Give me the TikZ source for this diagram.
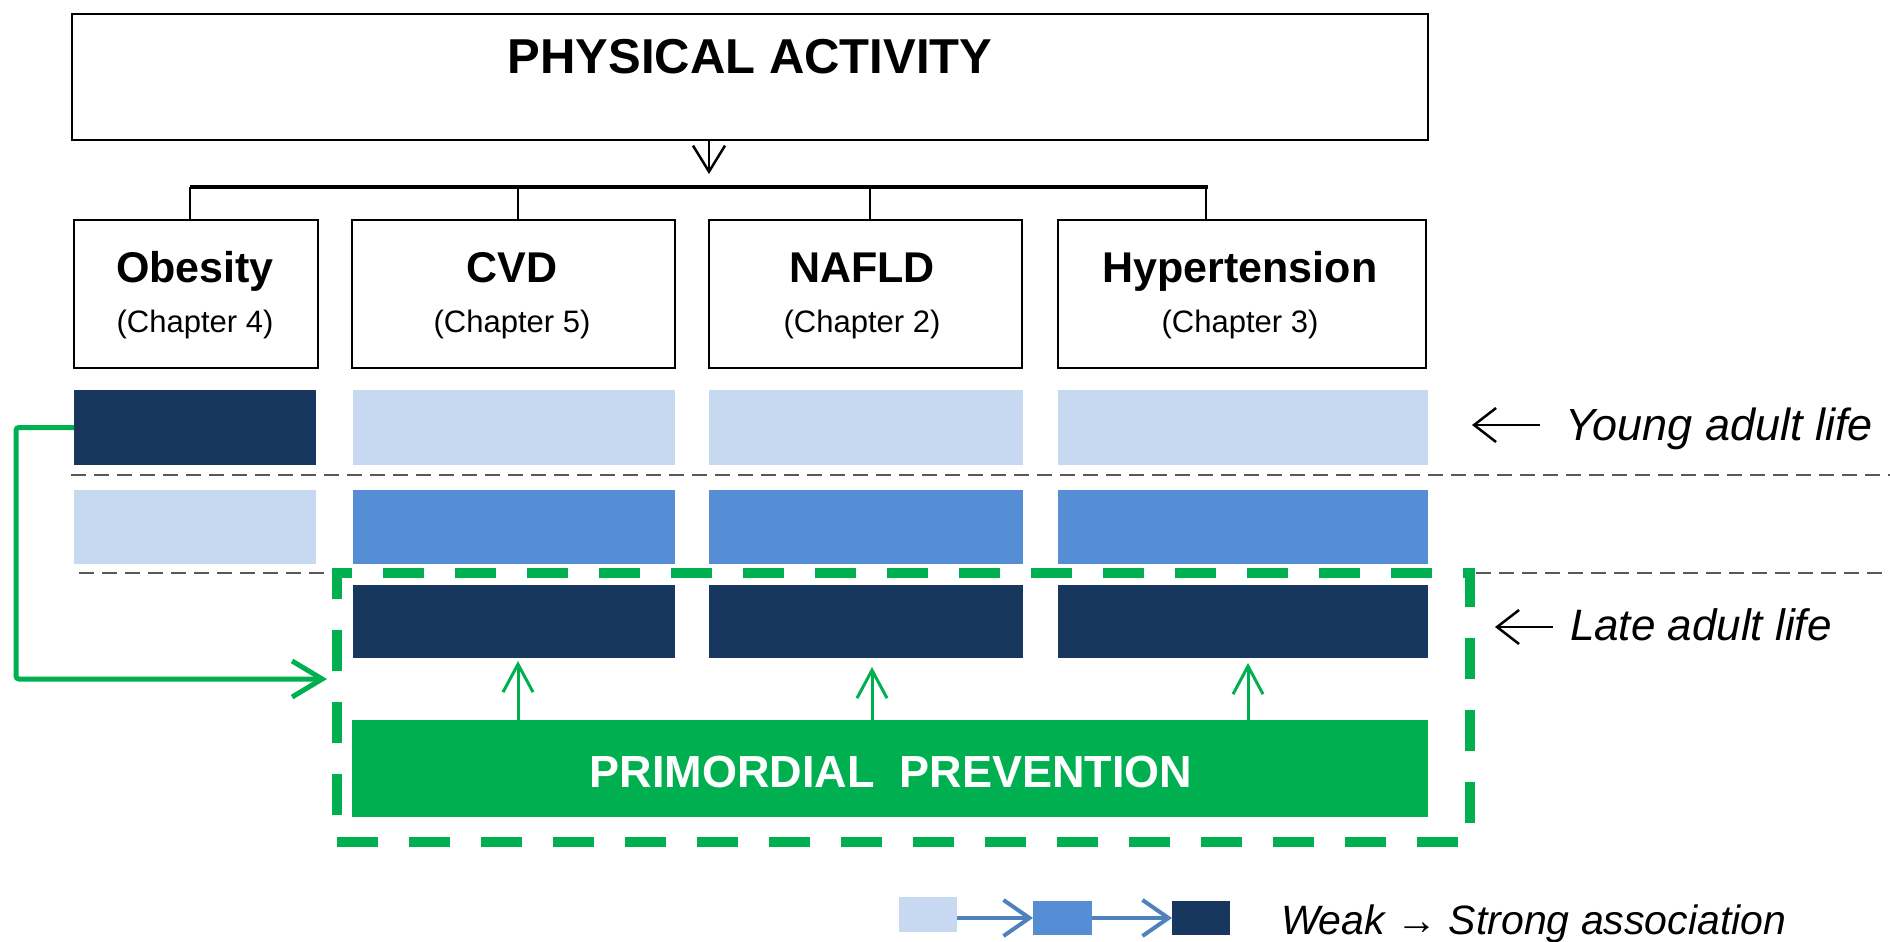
\documentclass[tikz,border=0pt]{standalone}
\usepackage{fontspec}
\setmainfont{Liberation Sans}
\usetikzlibrary{arrows.meta}
\definecolor{lightb}{HTML}{C6D9F1}
\definecolor{midb}{HTML}{558ED5}
\definecolor{darkb}{HTML}{17375E}
\definecolor{grn}{HTML}{00B050}
\definecolor{dgray}{HTML}{595959}
\definecolor{legline}{HTML}{4F81BD}
\newcommand\fs[1]{\fontsize{#1}{#1}\selectfont}
\begin{document}
\begin{tikzpicture}[x=1pt,y=-1pt,
  every node/.style={inner sep=0pt,outer sep=0pt},
  catbox/.style={draw=black,line width=2pt,fill=white,anchor=north west,minimum height=148pt},
  bar/.style={anchor=north west,draw=none},
  lbar/.style={bar,fill=lightb},
  mbar/.style={bar,fill=midb},
  dbar/.style={bar,fill=darkb},
  title/.style={anchor=base,font=\fs{43}\bfseries},
  chap/.style={anchor=base,font=\fs{31}},
  blkarr/.style={draw=black,line width=2.5pt,-{Straight Barb[length=26pt,width=32pt]}},
  tick/.style={draw=black,line width=2.5pt},
  grayline/.style={draw=dgray,line width=2.5pt,dash pattern=on 15pt off 8pt},
  garr/.style={draw=grn,line width=5pt,rounded corners=3pt,-{Straight Barb[length=30pt,width=36pt]}},
  sarr/.style={draw=grn,line width=3pt,-{Straight Barb[length=28pt,width=30pt]}},
  gbox/.style={draw=grn,line width=10pt,dash pattern=on 41pt off 31pt,anchor=north west},
  lab/.style={anchor=base west,font=\fs{45}\itshape},
  legarr/.style={draw=legline,line width=4pt,-{Straight Barb[length=26pt,width=36pt]}},
]
\path[use as bounding box] (0,0) rectangle (1890,942);

% top box
\node[draw=black,line width=2pt,anchor=north west,minimum width=1356pt,minimum height=126pt] (pa) at (72,14) {};
\node[anchor=base,font=\fs{49}\bfseries] (patext) at (750,74) {PHYSICAL ACTIVITY};

% category boxes
\node[catbox,minimum width=244pt] (ob) at (74,220) {};
\node[catbox,minimum width=323pt] (cvd) at (352,220) {};
\node[catbox,minimum width=313pt] (naf) at (709,220) {};
\node[catbox,minimum width=368pt] (hyp) at (1058,220) {};
\node[title] (obt) at (195,282) {Obesity};
\node[chap] (obc) at (195,332) {(Chapter 4)};
\node[title] (cvdt) at (512,282) {CVD};
\node[chap] (cvdc) at (512,332) {(Chapter 5)};
\node[title] (naft) at (862,282) {NAFLD};
\node[chap] (nafc) at (862,332) {(Chapter 2)};
\node[title] (hypt) at (1240,282) {Hypertension};
\node[chap] (hypc) at (1240,332) {(Chapter 3)};

% arrow and bracket
\coordinate (bl) at (190,187);
\coordinate (br) at (1208,187);
\coordinate (ax) at (709,187);
\draw[blkarr,shorten >=13pt] (pa.south -| ax) -- (ax);
\draw[draw=black,line width=4pt] (bl) -- (br);
\coordinate (t1) at (190,187);
\coordinate (t2) at (518,187);
\coordinate (t3) at (870,187);
\coordinate (t4) at (1206,187);
\draw[tick] (t1) -- (ob.north -| t1);
\draw[tick] (t2) -- (cvd.north -| t2);
\draw[tick] (t3) -- (naf.north -| t3);
\draw[tick] (t4) -- (hyp.north -| t4);

% gray dashed lines
\coordinate (g1a) at (71,475);
\coordinate (g1b) at (1890,475);
\coordinate (g2a) at (79,573);
\coordinate (g2b) at (330,573);
\coordinate (g2c) at (1476,573);
\coordinate (g2d) at (1890,573);
\draw[grayline] (g1a) -- (g1b);
\draw[grayline] (g2a) -- (g2b);
\draw[grayline] (g2c) -- (g2d);

% bars row 1
\node[dbar,minimum width=242pt,minimum height=75pt] (r1c1) at (74,390) {};
\node[lbar,minimum width=322pt,minimum height=75pt] (r1c2) at (353,390) {};
\node[lbar,minimum width=314pt,minimum height=75pt] (r1c3) at (709,390) {};
\node[lbar,minimum width=370pt,minimum height=75pt] (r1c4) at (1058,390) {};
% row 2
\node[lbar,minimum width=242pt,minimum height=74pt] (r2c1) at (74,490) {};
\node[mbar,minimum width=322pt,minimum height=74pt] (r2c2) at (353,490) {};
\node[mbar,minimum width=314pt,minimum height=74pt] (r2c3) at (709,490) {};
\node[mbar,minimum width=370pt,minimum height=74pt] (r2c4) at (1058,490) {};
% row 3
\node[dbar,minimum width=322pt,minimum height=73pt] (r3c2) at (353,585) {};
\node[dbar,minimum width=314pt,minimum height=73pt] (r3c3) at (709,585) {};
\node[dbar,minimum width=370pt,minimum height=73pt] (r3c4) at (1058,585) {};

% green dashed box
\node[gbox,minimum width=1133pt,minimum height=269pt] (gb) at (337,573) {};

% primordial prevention
\node[bar,fill=grn,minimum width=1076pt,minimum height=97pt] (prim) at (352,720) {};
\node[anchor=base,font=\fs{45}\bfseries,text=white] (primt) at (891,787) {PRIMORDIAL\hspace{0.55em}PREVENTION};

% small green arrows
\coordinate (a1) at (518,0);
\coordinate (a2) at (872,0);
\coordinate (a3) at (1248,0);
\draw[sarr,shorten >=3pt] (prim.north -| a1) -- (r3c2.south -| a1);
\draw[sarr,shorten >=9pt] (prim.north -| a2) -- (r3c3.south -| a2);
\draw[sarr,shorten >=5pt] (prim.north -| a3) -- (r3c4.south -| a3);

% green L arrow
\coordinate (gc) at (16,679);
\coordinate (gtip) at (327,679);
\draw[garr] (r1c1.west) -| (gc) -- (gtip);

% side labels
\node[lab] (young) at (1565,440) {Young adult life};
\node[lab,font=\fs{44}\itshape] (late) at (1570,640) {Late adult life};
\coordinate (ya) at (1540,425);
\coordinate (yb) at (1472,425);
\coordinate (la) at (1553,627);
\coordinate (lb) at (1495,627);
\draw[blkarr,-{Straight Barb[length=22pt,width=34pt]}] (ya) -- (yb);
\draw[blkarr,-{Straight Barb[length=22pt,width=34pt]}] (la) -- (lb);

% legend
\node[lbar,minimum width=58pt,minimum height=35pt] (lg1) at (899,897) {};
\node[mbar,minimum width=59pt,minimum height=34pt] (lg2) at (1033,901) {};
\node[dbar,minimum width=58pt,minimum height=34pt] (lg3) at (1172,901) {};
\draw[legarr] (lg1.east |- lg2.west) -- (lg2.west);
\draw[legarr] (lg2.east) -- (lg3.west);
\node[anchor=base west,font=\fs{41}\itshape] (legt) at (1281,934) {Weak → Strong association};
\end{tikzpicture}
\end{document}
